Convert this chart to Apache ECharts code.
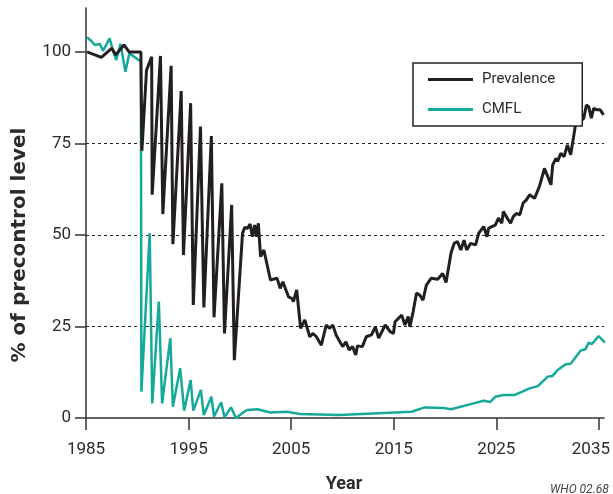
<!DOCTYPE html>
<html>
<head>
<meta charset="utf-8">
<script src="https://cdn.jsdelivr.net/npm/echarts@6/dist/echarts.min.js"></script>
<style>
html,body{margin:0;padding:0;background:#fff;}
#chart{width:613px;height:494px;}
</style>
</head>
<body>
<div id="chart"></div>
<script>
// ---- data ----
const prevYears = [1985.1,1986.5,1987.5,1987.9,1988.7,1989.2,1990.35,1990.45,1990.9,1991.4,1991.45,1992.26,1992.49,1993.3,1993.47,1994.28,1994.5,1995.2,1995.46,1996.16,1996.49,1997.22,1997.48,1998.24,1998.5,1999.2,1999.46,2000.26,2000.48,2000.74,2001.0,2001.22,2001.44,2001.63,2001.8,2002.02,2002.34,2002.98,2003.62,2003.93,2004.19,2004.74,2005.06,2005.22,2005.54,2005.92,2006.33,2006.81,2007.14,2007.46,2007.94,2008.42,2008.73,2009.06,2009.38,2009.54,2010.02,2010.34,2010.65,2010.98,2011.3,2011.46,2011.94,2012.32,2012.83,2013.21,2013.53,2014.17,2014.65,2014.97,2015.13,2015.78,2016.09,2016.41,2016.57,2016.89,2017.22,2017.53,2017.85,2018.18,2018.66,2019.29,2019.77,2020.1,2020.58,2020.89,2021.21,2021.54,2021.85,2022.11,2022.5,2022.98,2023.29,2023.77,2024.09,2024.25,2024.57,2024.9,2025.21,2025.53,2025.69,2026.17,2026.39,2026.65,2026.97,2027.29,2027.61,2027.93,2028.25,2028.73,2029.21,2029.69,2030.01,2030.33,2030.49,2030.81,2030.97,2031.29,2031.61,2031.93,2032.25,2032.72,2033.21,2033.53,2033.78,2034.01,2034.26,2034.49,2034.81,2035.13,2035.45];
const prevValues = [100,98.5,101,99.2,101.9,100,100,73,95,98.7,61,98.9,55.7,96.2,47.5,89.3,44.5,86,30.9,79.6,30.2,77,27.5,64.1,23.1,58.2,15.8,50.5,52.1,51.8,53,49.5,52.7,49.5,53.2,44.1,45.9,37.7,38.2,35.4,37.2,33.1,32.7,31.8,35,24.5,26.8,22.2,23.1,22.2,19.9,25.4,24.5,25.4,22.7,23.1,19.5,20.8,18.6,19.5,17.2,19.7,19.5,22.2,22.7,24.9,21.8,25.4,23.6,23.1,26.3,28.1,25.4,27.7,24.9,29,34.1,33.6,32.2,36.3,38.2,37.9,39.5,37,45,47.7,48.2,45.9,48.6,45.9,47.7,47.3,50.5,52.3,49.5,51.8,52.3,52.7,54.6,53.2,56.4,54.1,53.2,55,55.9,55.5,58.7,59.6,61,60,63.3,68.2,66,63.7,69.1,70.9,70.1,72.3,71.4,74.6,71.9,80.1,81,81.9,85.5,85,81.9,84.6,84.2,84.2,82.8];

const cmflYears = [1985.1,1985.55,1985.86,1986.34,1986.66,1987.3,1987.62,1987.95,1988.36,1988.84,1989.22,1990.35,1990.4,1991.21,1991.46,1992.1,1992.42,1993.22,1993.47,1994.18,1994.57,1995.2,1995.46,1996.2,1996.49,1997.22,1997.48,1998.18,1998.5,1999.14,1999.62,2000.42,2000.74,2001.7,2002.98,2004.58,2005.85,2009.69,2013.53,2016.74,2018.01,2019.93,2020.58,2022.5,2023.77,2024.41,2024.9,2025.69,2026.81,2028.25,2029.05,2030.01,2030.49,2030.97,2031.77,2032.25,2033.21,2033.69,2034.01,2034.33,2034.97,2035.58];
const cmflValues = [104,102.9,101.9,102.2,100.3,103.7,100.5,97.8,102.2,94.6,99.6,97.4,7.2,50.5,4.0,31.8,4.0,21.8,3.1,13.6,2.0,10.4,2.0,7.7,0.8,5.8,0.4,4.3,0.2,2.9,0,1.7,2.2,2.4,1.5,1.7,1.1,0.8,1.3,1.7,2.9,2.7,2.4,3.8,4.7,4.4,5.8,6.3,6.3,8.1,8.7,11.3,11.5,13.1,14.7,14.8,18.4,18.8,20.6,20.2,22.4,20.6];

const xTicks = [1985,1995,2005,2015,2025,2035];
const yTicks = [0,25,50,75,100];
const seriesNames = ['Prevalence','CMFL'];
// --------------------------------------

const FONT = 'Roboto,"Liberation Sans",sans-serif';
const TXT = '#2b2b2b';
const AX = '#333333';

const zip = (xs, ys) => xs.map((x, i) => [x, ys[i]]);

const chart = echarts.init(document.getElementById('chart'), null, {renderer: 'canvas'});
chart.setOption({
  animation: false,
  backgroundColor: '#ffffff',
  grid: {left: 86, right: 0, top: 8, bottom: 76, containLabel: false},
  xAxis: {
    type: 'value', min: 1985, max: 2035.5,
    axisLine: {show: true, lineStyle: {color: AX, width: 1.5}},
    axisTick: {show: true, length: 12, inside: false, customValues: xTicks, lineStyle: {color: AX, width: 1.5}},
    axisLabel: {
      customValues: xTicks, margin: 23, color: TXT, fontFamily: FONT, fontSize: 17,
      formatter: v => v === 2035 ? '{e|2035}' : String(v),
      rich: {e: {fontFamily: FONT, fontSize: 17, color: TXT, padding: [0, 16, 0, 0]}}
    },
    splitLine: {show: false}
  },
  yAxis: {
    type: 'value', min: 0, max: 112,
    axisLine: {show: true, lineStyle: {color: AX, width: 1.5}},
    axisTick: {show: true, length: 11, customValues: yTicks, lineStyle: {color: AX, width: 1.5}},
    axisLabel: {customValues: yTicks, margin: 15, color: TXT, fontFamily: FONT, fontSize: 17},
    splitLine: {show: true, showMinLine: false, showMaxLine: false, lineStyle: {color: '#222', width: 1, type: [3, 3]}}
  },
  legend: {
    data: seriesNames,
    orient: 'vertical',
    left: 413, top: 63,
    backgroundColor: '#fff',
    borderColor: '#222', borderWidth: 1.5,
    padding: [9, 27, 9, 15],
    itemGap: 15,
    itemWidth: 45, itemHeight: 3,
    icon: 'rect',
    textStyle: {fontFamily: FONT, fontSize: 15, color: TXT, padding: [0, 0, 0, 4]}
  },
  series: [
    {
      name: 'CMFL', type: 'line', data: zip(cmflYears, cmflValues),
      showSymbol: false, symbol: 'none', z: 2,
      lineStyle: {color: '#15a999', width: 2.5}, itemStyle: {color: '#15a999'}
    },
    {
      name: 'Prevalence', type: 'line', data: zip(prevYears, prevValues),
      showSymbol: false, symbol: 'none', z: 3,
      lineStyle: {color: '#231f20', width: 3}, itemStyle: {color: '#231f20'}
    }
  ],
  graphic: [
    {type: 'text', x: 20, y: 245, rotation: Math.PI / 2,
     style: {text: '% of precontrol level', font: 'bold 20px "DejaVu Sans",sans-serif', fill: TXT, align: 'center', verticalAlign: 'middle'}},
    {type: 'text', x: 344, y: 484,
     style: {text: 'Year', font: 'bold 18px Roboto,sans-serif', fill: TXT, align: 'center', verticalAlign: 'middle'}},
    {type: 'text', x: 550, y: 490,
     style: {text: 'WHO 02.68', font: 'italic 12px Roboto,sans-serif', fill: '#444', align: 'left', verticalAlign: 'middle'}}
  ]
});
</script>
</body>
</html>
